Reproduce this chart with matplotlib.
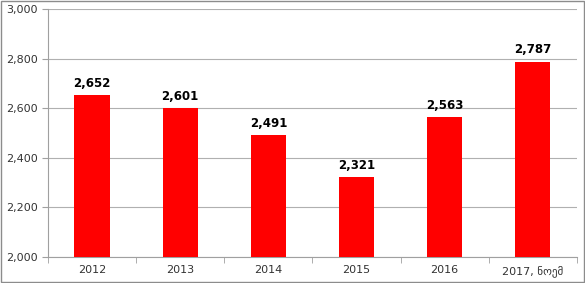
import matplotlib.pyplot as plt
from matplotlib.patches import Rectangle

# dati
years = ['2012', '2013', '2014', '2015', '2016', '2017, ნოემ']
values = [2652, 2601, 2491, 2321, 2563, 2787]

fig = plt.figure(figsize=(5.85, 2.83), dpi=100)
ax = fig.add_axes([0.082, 0.092, 0.904, 0.876])

x = range(len(years))
ax.bar(x, values, width=0.4, color='#ff0000', zorder=3)

for i, v in enumerate(values):
    ax.text(i, v + 22, f'{v:,}', ha='center', va='bottom',
            fontsize=8.5, fontweight='bold', color='black')

ax.set_ylim(2000, 3000)
ax.set_xlim(-0.5, len(years) - 0.5)
ax.set_yticks(range(2000, 3001, 200))
ax.set_yticklabels([f'{t:,}' for t in range(2000, 3001, 200)])
ax.yaxis.grid(True, color='#b0b0b0', lw=0.8, zorder=0)

ax.set_xticks(list(x))
ax.set_xticklabels(years)
ax.set_xticks([i + 0.5 for i in range(-1, len(years))], minor=True)
ax.tick_params(axis='x', which='major', length=0, labelsize=8, pad=6, colors='#333333')
ax.tick_params(axis='x', which='minor', length=4, color='#a0a0a0')
ax.tick_params(axis='y', length=4, color='#a0a0a0', labelsize=8, labelcolor='#333333')

for s in ['top', 'right']:
    ax.spines[s].set_visible(False)
for s in ['left', 'bottom']:
    ax.spines[s].set_color('#a0a0a0')

# cornice esterna
fig.patches.append(Rectangle((0.002, 0.003), 0.996, 0.994, transform=fig.transFigure,
                             fill=False, edgecolor='#8c8c8c', lw=1))

fig.savefig('out.png', dpi=100)
